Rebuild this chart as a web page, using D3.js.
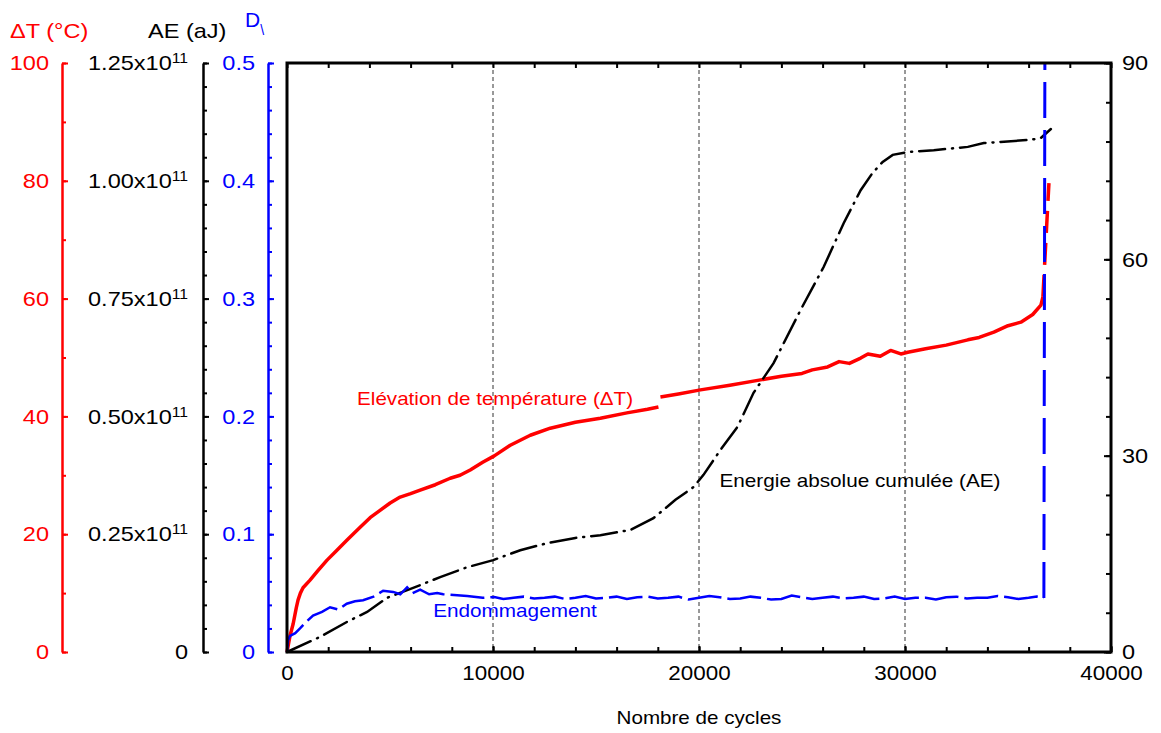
<!DOCTYPE html>
<html>
<head>
<meta charset="utf-8">
<script src="https://cdn.jsdelivr.net/npm/d3@7"></script>
<style>
	body { margin: 0; background: #ffffff; }
	svg text { font-family: "Liberation Sans", Arial, sans-serif; }
</style>
</head>
<body>
<script>
//data: cycles vs temperature rise, cumulated AE energy, damage

//temperature rise (°C), null marks the gap in the record
var tempCycles = [0,150,300,450,535,650,778,1118,1500,1944,2400,2916,3500,4034,4500,5006,5492,6000,6464,7200,7922,8400,8894,9500,10061,10838,11810,12782,14000,15212,16500,17500,18031,
	18080,18128,19000,20073,21500,22989,24000,25000,25500,26245,26800,27300,27849,28200,28800,29300,29800,30134,31000,32000,33050,33600,34313,35000,35626,36200,36598,36695,36987];
var tempValues = [0,2.8,4.8,7.5,8.8,10.0,10.9,12.2,13.8,15.6,17.2,19.0,21.0,22.8,24.0,25.3,26.3,26.9,27.5,28.4,29.5,30.0,30.9,32.2,33.3,35.1,36.8,38.0,39.0,39.7,40.6,41.2,41.6,
	null,43.3,43.8,44.5,45.3,46.2,46.8,47.3,47.9,48.4,49.3,49.0,49.9,50.6,50.2,51.2,50.6,50.9,51.5,52.1,53.0,53.4,54.3,55.4,56.0,57.3,58.9,60.3,79.6];

//cumulated absolute energy, in units of 1e11 aJ
var aeCycles = [0,1604,2916,3888,4860,6124,7436,8748,10012,11324,12636,13997,15212,16670,17788,18857,19732,20218,21044,21870,22648,23620,24932,26050,27022,27848,28431,28917,29403,30132,31396,33048,33826,36110,36596,37082];
var aeValues = [0,0.032,0.064,0.085,0.115,0.136,0.159,0.180,0.195,0.216,0.231,0.242,0.248,0.259,0.284,0.323,0.350,0.376,0.429,0.478,0.550,0.613,0.726,0.817,0.910,0.980,1.017,1.040,1.055,1.061,1.065,1.072,1.080,1.087,1.091,1.110];

//damage D
var dmgCycles = [0,49,146,400,632,900,1264,1700,2090,2500,2900,3300,3694,4200,4666,5152,5500,5832,6100,6464,6900,7290,7582,8748,9500,10060,10500,11000,11500,12000,12500,13000,13500,14000,14500,15000,15500,16000,16500,17000,17500,18000,18500,19000,19500,20000,20500,21000,21500,22000,22500,23000,23500,24000,24500,25000,25500,26000,26500,27000,27500,28000,28500,29000,29500,30000,30500,31000,31500,32000,32500,33000,33500,34000,34500,35000,35500,36000,36400,36742,36790];
var dmgValues = [0,0.010,0.0136,0.016,0.020,0.025,0.031,0.034,0.038,0.036,0.041,0.043,0.044,0.047,0.052,0.051,0.049,0.055,0.050,0.053,0.049,0.050,0.049,0.0475,0.046,0.0467,0.045,0.046,0.047,0.0455,0.046,0.047,0.045,0.046,0.0475,0.0455,0.046,0.047,0.045,0.0465,0.047,0.0455,0.046,0.047,0.0445,0.046,0.0475,0.0465,0.045,0.0455,0.047,0.046,0.0445,0.045,0.048,0.0465,0.045,0.046,0.047,0.0455,0.046,0.047,0.045,0.0455,0.047,0.045,0.046,0.046,0.0445,0.0465,0.047,0.0455,0.046,0.046,0.0475,0.0465,0.045,0.046,0.047,0.0458,0.5];

//ticks
var xTicks = [0,10000,20000,30000,40000];
var gridTicks = [10000,20000,30000];
var tempTicks = [0,20,40,60,80,100];
var aeTicks = [0,0.25,0.5,0.75,1.0,1.25];
var dmgTicks = [0,0.1,0.2,0.3,0.4,0.5];
var rightTicks = [0,30,60,90];

var W = 1161, H = 733;
var plotL = 287, plotR = 1111, plotT = 63, plotB = 652;
var k = 1.12; //horizontal text stretch

var svg = d3.select("body").append("svg")
	.attr("width", W)
	.attr("height", H);

var x = d3.scaleLinear().domain([0,40000]).range([plotL,plotR]);
var yTemp = d3.scaleLinear().domain([0,100]).range([plotB,plotT]);
var yAE = d3.scaleLinear().domain([0,1.25]).range([plotB,plotT]);
var yDmg = d3.scaleLinear().domain([0,0.5]).range([plotB,plotT]);
var yRight = d3.scaleLinear().domain([0,90]).range([plotB,plotT]);

function stretch(sel){
	sel.each(function(){
		var len = this.getComputedTextLength();
		d3.select(this).attr("textLength", len*k).attr("lengthAdjust","spacingAndGlyphs");
	});
}

//dashed grid lines
svg.selectAll(".grid")
	.data(gridTicks)
	.enter().append("line")
	.attr("class","grid")
	.attr("x1", function(d){ return x(d); })
	.attr("x2", function(d){ return x(d); })
	.attr("y1", plotT)
	.attr("y2", plotB)
	.style("stroke","#333")
	.style("stroke-width",1)
	.style("stroke-dasharray","4,3");

function styleAxis(g, color, size){
	g.selectAll(".tick line").style("stroke",color).style("stroke-width",2);
	g.selectAll("text").style("fill",color).style("font-size",size+"px");
}

//bottom / top axes
var bottomMinor = svg.append("g")
	.attr("transform","translate(0,"+plotB+")")
	.call(d3.axisBottom(x).tickValues(d3.range(0,40001,2000)).tickSizeInner(-5).tickSizeOuter(0).tickFormat(""));
bottomMinor.select(".domain").remove();
bottomMinor.selectAll(".tick line").style("stroke","#000").style("stroke-width",2);

var bottomAxis = svg.append("g")
	.attr("transform","translate(0,"+plotB+")")
	.call(d3.axisBottom(x).tickValues(xTicks).tickSizeInner(-6).tickSizeOuter(0).tickPadding(14).tickFormat(d3.format("d")));
bottomAxis.select(".domain").remove();
styleAxis(bottomAxis,"#000",20);
stretch(bottomAxis.selectAll("text"));

var topMinor = svg.append("g")
	.attr("transform","translate(0,"+plotT+")")
	.call(d3.axisTop(x).tickValues(d3.range(0,40001,2000)).tickSizeInner(-5).tickSizeOuter(0).tickFormat(""));
topMinor.select(".domain").remove();
topMinor.selectAll(".tick line").style("stroke","#000").style("stroke-width",2);

//right axis
var rightMinor = svg.append("g")
	.attr("transform","translate("+plotR+",0)")
	.call(d3.axisRight(yRight).tickValues(d3.range(0,91,6)).tickSizeInner(-5).tickSizeOuter(0).tickFormat(""));
rightMinor.select(".domain").remove();
rightMinor.selectAll(".tick line").style("stroke","#000").style("stroke-width",2);

var rightAxis = svg.append("g")
	.attr("transform","translate("+plotR+",0)")
	.call(d3.axisRight(yRight).tickValues(rightTicks).tickSizeInner(-7).tickSizeOuter(0).tickPadding(11));
rightAxis.select(".domain").remove();
styleAxis(rightAxis,"#000",21);
stretch(rightAxis.selectAll("text"));

//left axes: line, ticks pointing right, labels on the left
function leftAxis(scale, pos, major, minorStep, color, fmt){
	var maxV = scale.domain()[1];
	var minor = svg.append("g")
		.attr("transform","translate("+pos+",0)")
		.call(d3.axisLeft(scale).tickValues(d3.range(0, maxV+minorStep/2, minorStep)).tickSizeInner(-4).tickSizeOuter(0).tickFormat(""));
	minor.select(".domain").style("stroke",color).style("stroke-width",2.5);
	minor.selectAll(".tick line").style("stroke",color).style("stroke-width",2);
	var g = svg.append("g")
		.attr("transform","translate("+pos+",0)")
		.call(d3.axisLeft(scale).tickValues(major).tickSizeInner(-6).tickSizeOuter(0).tickPadding(13).tickFormat(fmt));
	g.select(".domain").remove();
	styleAxis(g,color,21);
	return g;
}

var tempAxis = leftAxis(yTemp, 62, tempTicks, 10, "#ff0000", d3.format("d"));
stretch(tempAxis.selectAll("text"));

var aeAxis = leftAxis(yAE, 203, aeTicks, 0.05, "#000", function(d){ return d === 0 ? "0" : d3.format(".2f")(d) + "x10"; });
aeAxis.selectAll(".tick text")
	.attr("dx", -2)
	.each(function(d){
		if (d !== 0) {
			d3.select(this).append("tspan")
				.attr("dy","-0.5em")
				.style("font-size","14px")
				.text("11");
		}
	});
stretch(aeAxis.selectAll(".tick text"));

var dmgAxis = leftAxis(yDmg, 268, dmgTicks, 0.02, "#0000ff", function(d){ return d === 0 ? "0" : d3.format(".1f")(d); });
stretch(dmgAxis.selectAll("text"));

//axis titles
svg.append("text").attr("x",10).attr("y",38)
	.style("font-size","21px").style("fill","#ff0000")
	.text("\u0394T (\u00b0C)")
	.call(stretch);
svg.append("text").attr("x",148).attr("y",38)
	.style("font-size","21px").style("fill","#000")
	.text("AE (aJ)")
	.call(stretch);
var dTitle = svg.append("text").attr("x",245).attr("y",27)
	.style("font-size","21px").style("fill","#0000ff");
dTitle.append("tspan").text("D");
dTitle.append("tspan").attr("dy",8).style("font-size","14px").text("\\");

//series
var tempData = tempCycles.map(function(c,i){ return [c, tempValues[i]]; });
var aeData = aeCycles.map(function(c,i){ return [c, aeValues[i]]; });
var dmgData = dmgCycles.map(function(c,i){ return [c, dmgValues[i]]; });

var tempLine = d3.line()
	.defined(function(d){ return d[1] !== null; })
	.x(function(d){ return x(d[0]); })
	.y(function(d){ return yTemp(d[1]); });

svg.append("path")
	.datum(tempData.slice(0, tempData.length-1))
	.attr("d", tempLine)
	.style("fill","none")
	.style("stroke","#ff0000")
	.style("stroke-width",3.5)
	.style("stroke-linejoin","round");

svg.append("path")
	.datum(tempData.slice(tempData.length-2))
	.attr("d", tempLine)
	.style("fill","none")
	.style("stroke","#ff0000")
	.style("stroke-width",3.5)
	.style("stroke-dasharray","22,10");

var aeLine = d3.line()
	.x(function(d){ return x(d[0]); })
	.y(function(d){ return yAE(d[1]); });

svg.append("path")
	.datum(aeData)
	.attr("d", aeLine)
	.style("fill","none")
	.style("stroke","#000")
	.style("stroke-width",2.5)
	.style("stroke-linecap","round")
	.style("stroke-dasharray","26,7,1,7");

var dmgLine = d3.line()
	.x(function(d){ return x(d[0]); })
	.y(function(d){ return yDmg(d[1]); });

svg.append("path")
	.datum(dmgData.slice(0, dmgData.length-1))
	.attr("d", dmgLine)
	.style("fill","none")
	.style("stroke","#0000ff")
	.style("stroke-width",2.5)
	.style("stroke-dasharray","34,6");

svg.append("path")
	.datum(dmgData.slice(dmgData.length-2))
	.attr("d", dmgLine)
	.style("fill","none")
	.style("stroke","#0000ff")
	.style("stroke-width",3)
	.style("stroke-dasharray","36,12");

//frame
svg.append("rect")
	.attr("x",plotL).attr("y",plotT)
	.attr("width",plotR-plotL).attr("height",plotB-plotT)
	.style("fill","none")
	.style("stroke","#000")
	.style("stroke-width",3);

//annotations
svg.append("text")
	.attr("x", x(3402)).attr("y", yTemp(41.9))
	.style("font-size","18.4px").style("fill","#ff0000")
	.text("El\u00e9vation de temp\u00e9rature (\u0394T)")
	.call(stretch);
svg.append("text")
	.attr("x", x(20995)).attr("y", yTemp(28.0))
	.style("font-size","18.5px").style("fill","#000")
	.text("Energie absolue cumul\u00e9e (AE)")
	.call(stretch);
svg.append("text")
	.attr("x", x(7096)).attr("y", yDmg(0.0297))
	.style("font-size","18.5px").style("fill","#0000ff")
	.text("Endommagement")
	.call(stretch);

//x title
svg.append("text")
	.attr("x", x(20000)).attr("y", 724)
	.attr("text-anchor","middle")
	.style("font-size","18.4px").style("fill","#000")
	.text("Nombre de cycles")
	.call(stretch);
</script>
</body>
</html>
